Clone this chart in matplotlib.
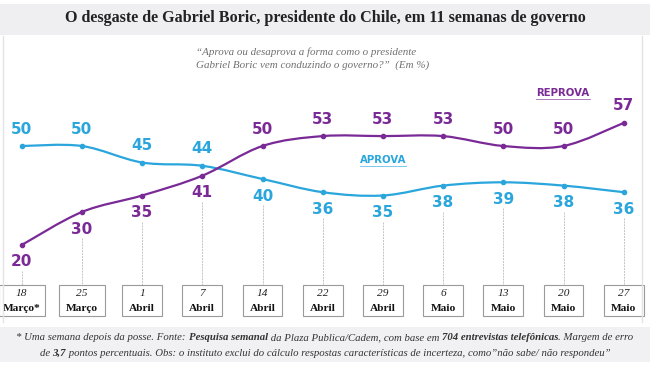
import matplotlib
matplotlib.use('Agg')
import matplotlib.pyplot as plt
from matplotlib.path import Path
from matplotlib.patches import PathPatch, Rectangle
import numpy as np

# dados (pesquisa Plaza Publica/Cadem, em %)
dias = ['18', '25', '1', '7', '14', '22', '29', '6', '13', '20', '27']
meses = ['Março*', 'Março', 'Abril', 'Abril', 'Abril', 'Abril', 'Abril',
         'Maio', 'Maio', 'Maio', 'Maio']
aprova = [50, 50, 45, 44, 40, 36, 35, 38, 39, 38, 36]
reprova = [20, 30, 35, 41, 50, 53, 53, 53, 50, 50, 57]

AZUL = '#2aa6dd'
ROXO = '#7a2a96'
SERIF = 'Liberation Serif'
SANS = 'DejaVu Sans'

W, H = 650, 365
fig = plt.figure(figsize=(W / 100, H / 100), dpi=100)
fig.patch.set_facecolor('white')

# eixo cobrindo a figura inteira: indice 0 em x=22px, passo 60.2px; 3.3px por ponto percentual
x0, dx = 21.7, 60.2
y20, dy = 245, 3.3
ax = fig.add_axes([0, 0, 1, 1])
ax.set_xlim(-x0 / dx, (W - x0) / dx)
ax.set_ylim(20 - (H - y20) / dy, 20 + y20 / dy)
ax.axis('off')


def suave(xs, ys):
    """curva suave (catmull-rom -> bezier) passando pelos pontos"""
    pts = np.column_stack([xs, ys]).astype(float)
    n = len(pts)
    verts = [pts[0]]
    codes = [Path.MOVETO]
    for i in range(n - 1):
        p0 = pts[max(i - 1, 0)]
        p1 = pts[i]
        p2 = pts[i + 1]
        p3 = pts[min(i + 2, n - 1)]
        verts += [p1 + (p2 - p0) / 6, p2 - (p3 - p1) / 6, p2]
        codes += [Path.CURVE4] * 3
    return Path(verts, codes)


x = np.arange(len(dias))

# faixas cinza do titulo e do rodape
fig.patches.append(Rectangle((0, 1 - 35 / H), 1, 31 / H, transform=fig.transFigure,
                             facecolor='#efeff1', edgecolor='none', zorder=0))
fig.patches.append(Rectangle((0, 3 / H), 1, 35 / H, transform=fig.transFigure,
                             facecolor='#f1f1f3', edgecolor='none', zorder=0))
# bordas laterais do painel
for xp in (2.5, 641.5):
    fig.add_artist(plt.Line2D([xp / W, xp / W], [1 - 36 / H, 1 - 322 / H],
                              color='#e4e4e6', lw=1.0, transform=fig.transFigure))

fig.text(0.5, 1 - 18.5 / H,
         'O desgaste de Gabriel Boric, presidente do Chile, em 11 semanas de governo',
         ha='center', va='center', fontsize=11.6, fontweight='bold',
         family=SERIF, color='#222222')
fig.text(196 / W, 1 - 52 / H,
         '“Aprova ou desaprova a forma como o presidente',
         ha='left', va='center', fontsize=7.9, style='italic', family=SERIF, color='#707070')
fig.text(196 / W, 1 - 65 / H,
         'Gabriel Boric vem conduzindo o governo?”  (Em %)',
         ha='left', va='center', fontsize=7.9, style='italic', family=SERIF, color='#707070')

# linhas
for serie, cor in ((aprova, AZUL), (reprova, ROXO)):
    ax.add_patch(PathPatch(suave(x, serie), facecolor='none', edgecolor=cor,
                           lw=1.6, capstyle='round', zorder=3))
    ax.plot(x, serie, 'o', color=cor, ms=3, zorder=4)

# rotulos de valor e linhas-guia ate as datas
box_top = 20 - (285 - y20) / dy
box_bot = 20 - (316 - y20) / dy
off = 17
for i in x:
    a, r = aprova[i], reprova[i]
    a_cima = a >= r
    ax.annotate(str(a), (i, a), xytext=(0, off if a_cima else -off), textcoords='offset pixels',
                ha='center', va='center', fontsize=11, fontweight='bold', family=SANS,
                color=AZUL, zorder=5)
    ax.annotate(str(r), (i, r), xytext=(0, -off if a_cima else off), textcoords='offset pixels',
                ha='center', va='center', fontsize=11, fontweight='bold', family=SANS,
                color=ROXO, zorder=5)
    baixo = min(a, r)
    ax.plot([i, i], [baixo - 26 / dy, box_top], color='#c4c4c4', lw=0.7,
            ls=(0, (2, 1)), zorder=1)
    larg = 0.76 if meses[i].startswith('Mar') else 0.66
    ax.add_patch(Rectangle((i - larg / 2, box_bot), larg, box_top - box_bot,
                           facecolor='white', edgecolor='#9a9a9a', lw=0.8, zorder=2))
    ax.text(i, box_top - 8.5 / dy, dias[i], ha='center', va='center', fontsize=8.2,
            style='italic', family=SERIF, color='#222222', zorder=3)
    ax.text(i, box_top - 23.5 / dy, meses[i], ha='center', va='center', fontsize=8.2,
            fontweight='bold', family=SERIF, color='#111111', zorder=3)

renderer = fig.canvas.get_renderer()


def sublinhado(xc, yc, txt, cor):
    t = fig.text(xc / W, 1 - yc / H, txt, ha='center', va='center', fontsize=7.3,
                 fontweight='bold', family=SANS, color=cor)
    bb = t.get_window_extent(renderer)
    fig.add_artist(plt.Line2D([bb.x0 / W, bb.x1 / W], [(bb.y0 - 1) / H] * 2,
                              color=cor, lw=0.6, alpha=0.7, transform=fig.transFigure))


sublinhado(563, 93, 'REPROVA', ROXO)
sublinhado(383, 160, 'APROVA', AZUL)

FS_RODAPE = 7.75


def largura(s, peso):
    t = fig.text(0, 0, s + '.', fontsize=FS_RODAPE, style='italic', fontweight=peso, family=SERIF)
    t2 = fig.text(0, 0, '.', fontsize=FS_RODAPE, style='italic', fontweight=peso, family=SERIF)
    w = t.get_window_extent(renderer).width - t2.get_window_extent(renderer).width
    t.remove()
    t2.remove()
    return w


def linha_mista(yc, partes):
    ws = [largura(s, p) for s, p in partes]
    xp = W / 2 - sum(ws) / 2
    for (s, p), w in zip(partes, ws):
        fig.text(xp / W, 1 - yc / H, s, ha='left', va='center', fontsize=FS_RODAPE,
                 style='italic', fontweight=p, family=SERIF, color='#333333')
        xp += w


linha_mista(338, [('* Uma semana depois da posse. Fonte: ', 'normal'),
                  ('Pesquisa semanal', 'bold'),
                  (' da Plaza Publica/Cadem, com base em ', 'normal'),
                  ('704 entrevistas telefônicas', 'bold'),
                  ('. Margem de erro', 'normal')])
linha_mista(353, [('de ', 'normal'), ('3,7', 'bold'),
                  (' pontos percentuais. Obs: o instituto exclui do cálculo respostas '
                   'características de incerteza, como”não sabe/ não respondeu”', 'normal')])

fig.savefig('out.png', dpi=100)
